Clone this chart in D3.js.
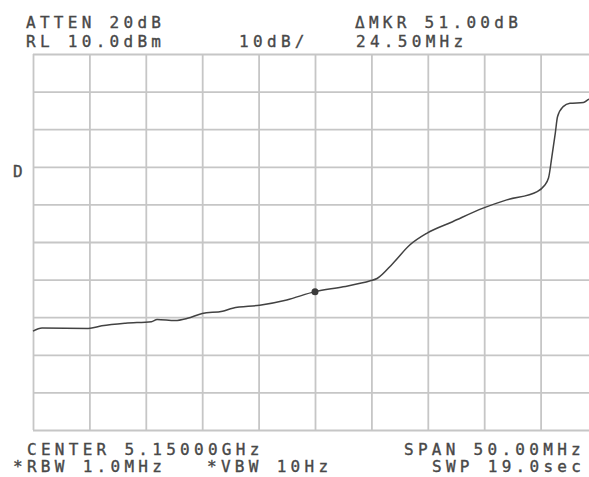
<!DOCTYPE html>
<html>
<head>
<meta charset="utf-8">
<script src="https://cdn.jsdelivr.net/npm/d3@7/dist/d3.min.js"></script>
<style>
  html, body { margin: 0; padding: 0; background: #fff; }
  svg { display: block; }
  .ann { font-family: "DejaVu Sans Mono", monospace; font-size: 16px; fill: #484848; stroke: #484848; stroke-width: 0.35px; }
</style>
</head>
<body>
<svg id="chart" width="589" height="477"></svg>
<script>
// Sweep settings: center 5.15 GHz, span 50 MHz, reference level 10 dBm, 10 dB/div
const freqRange = [5125, 5175];          // MHz
const levelRange = [-90, 10];            // dBm
const freqGrid = d3.range(5125, 5176, 5);
const levelGrid = d3.range(-90, 11, 10);

// Measured trace
const freqMHz = [5125.0, 5125.8, 5129.9, 5131.1, 5133.2, 5135.5, 5136.0, 5137.6, 5138.7, 5140.0,
                 5141.8, 5142.7, 5145.1, 5147.5, 5150.0, 5152.5, 5154.9, 5155.5, 5156.9, 5158.4,
                 5159.9, 5162.2, 5164.9, 5167.0, 5169.7, 5170.3, 5170.7, 5171.0, 5171.3, 5171.5,
                 5172.0, 5172.6, 5173.8, 5174.3, 5175.0];
const levelDbm = [-63.7, -62.9, -63.0, -62.3, -61.6, -61.2, -60.6, -60.9, -60.3, -59.0,
                  -58.4, -57.6, -56.8, -55.4, -53.2, -51.9, -50.3, -49.7, -45.7, -40.8,
                  -37.7, -34.6, -31.0, -28.8, -26.6, -25.1, -23.0, -17.3, -11.1, -6.7,
                  -4.0, -3.1, -2.9, -2.0, -1.8];

// Marker position
const markerFreq = [5150.0];
const markerLevel = [-53.2];

// Screen annotations
const headerLeft = ["ATTEN 20dB", "RL 10.0dBm"];
const headerMid = ["", "10dB/"];
const headerRight = ["\u0394MKR 51.00dB", "24.50MHz"];
const footerLeft = ["CENTER 5.15000GHz", "*RBW 1.0MHz"];
const footerMid = ["", "*VBW 10Hz"];
const footerRight = ["SPAN 50.00MHz", "SWP 19.0sec"];
const sideLabel = "D";

const svg = d3.select("#chart");
const plot = { left: 33, top: 54, right: 597, bottom: 430 };

const x = d3.scaleLinear().domain(freqRange).range([plot.left, plot.right]);
const y = d3.scaleLinear().domain(levelRange).range([plot.bottom, plot.top]);

// Graticule
const gridColor = "#c6c6c6";
const gx = svg.append("g")
  .attr("transform", `translate(0,${plot.bottom})`)
  .call(d3.axisBottom(x).tickValues(freqGrid).tickSize(-(plot.bottom - plot.top)).tickFormat(""));
const gy = svg.append("g")
  .attr("transform", `translate(${plot.left},0)`)
  .call(d3.axisLeft(y).tickValues(levelGrid).tickSize(-(plot.right - plot.left)).tickFormat(""));
[gx, gy].forEach(g => {
  g.select(".domain").remove();
  g.selectAll(".tick line").attr("stroke", gridColor).attr("stroke-width", 1.8);
});

// Trace
const line = d3.line()
  .x((d, i) => x(freqMHz[i]))
  .y((d, i) => y(levelDbm[i]))
  .curve(d3.curveMonotoneX);
svg.append("path")
  .attr("d", line(freqMHz))
  .attr("fill", "none")
  .attr("stroke", "#424242")
  .attr("stroke-width", 1.5)
  .attr("stroke-linejoin", "round");

// Marker
svg.selectAll("circle.mkr")
  .data(markerFreq)
  .join("circle")
  .attr("class", "mkr")
  .attr("cx", (d) => x(d))
  .attr("cy", (d, i) => y(markerLevel[i]))
  .attr("r", 3.5)
  .attr("fill", "#3a3a3a");

// Text annotations (monospaced display font with a wide character pitch)
const pitch = 13.9;
function put(str, xPos, yPos) {
  if (!str) return;
  svg.append("text")
    .attr("class", "ann")
    .attr("x", xPos)
    .attr("y", yPos)
    .attr("textLength", str.length * pitch - 4)
    .attr("lengthAdjust", "spacing")
    .text(str);
}
const rows = [28, 47];
put(headerLeft[0], 26, rows[0]);
put(headerLeft[1], 26, rows[1]);
put(headerMid[1], 239, rows[1]);
put(headerRight[0], 355, rows[0]);
put(headerRight[1], 356, rows[1]);

const frows = [454.5, 472];
put(footerLeft[0], 27, frows[0]);
put(footerLeft[1], 13, frows[1]);
put(footerMid[1], 207, frows[1]);
put(footerRight[0], 404, frows[0]);
put(footerRight[1], 432, frows[1]);

put(sideLabel, 13, 176.5);
</script>
</body>
</html>
